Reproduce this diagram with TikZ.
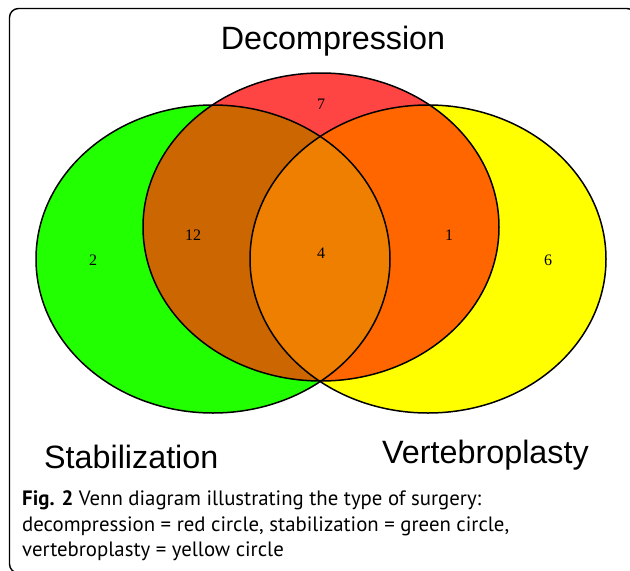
\documentclass[tikz,border=0pt]{standalone}
\usepackage{fontspec}
\setmainfont{Liberation Serif}
\newfontfamily\titlefont{Liberation Sans}
\newfontfamily\capfont{PT Sans}
\definecolor{cgreen}{HTML}{22FF00}
\definecolor{cred}{HTML}{FF4444}
\definecolor{cyellow}{HTML}{FFFF00}
\definecolor{cgr}{HTML}{CC6600}
\definecolor{cry}{HTML}{FF6600}
\definecolor{call}{HTML}{EE7F00}
\tikzset{
  setlabel/.style={font=\titlefont\fontsize{32.3}{36}\selectfont, inner sep=0pt, anchor=base},
  numlabel/.style={font=\fontsize{16}{18}\selectfont, inner sep=0pt},
  captext/.style={font=\capfont\fontsize{20.8}{26}\selectfont, inner sep=0pt, anchor=base west},
  vennline/.style={draw=black, line width=1.5pt}
}
\begin{document}
\begin{tikzpicture}[x=1pt,y=-1pt]
\useasboundingbox (0,0) rectangle (630,571);
\begin{scope}
\clip (0,0) rectangle (630,571);
\draw[line width=1.4pt, rounded corners=9pt] (9.5,8.5) rectangle (636,573);
\end{scope}
% base fills
\fill[cgreen] (213,259) ellipse [x radius=177, y radius=154];
\fill[cred] (321,227) ellipse [x radius=178, y radius=154];
\fill[cyellow] (428,259) ellipse [x radius=178, y radius=154];
% green & red
\begin{scope}
\clip (213,259) ellipse [x radius=177, y radius=154];
\fill[cgr] (321,227) ellipse [x radius=178, y radius=154];
\end{scope}
% red & yellow
\begin{scope}
\clip (321,227) ellipse [x radius=178, y radius=154];
\fill[cry] (428,259) ellipse [x radius=178, y radius=154];
\end{scope}
% all three
\begin{scope}
\clip (213,259) ellipse [x radius=177, y radius=154];
\clip (428,259) ellipse [x radius=178, y radius=154];
\fill[call] (321,227) ellipse [x radius=178, y radius=154];
\end{scope}
% outlines
\draw[vennline] (213,259) ellipse [x radius=177, y radius=154];
\draw[vennline] (321,227) ellipse [x radius=178, y radius=154];
\draw[vennline] (428,259) ellipse [x radius=178, y radius=154];
% numbers
\node[numlabel] (n7) at (321,104) {7};
\node[numlabel] (n12) at (193,235) {12};
\node[numlabel] (n4) at (321,253) {4};
\node[numlabel] (n1) at (449,235) {1};
\node[numlabel] (n2) at (93,260) {2};
\node[numlabel] (n6) at (548,260) {6};
% set titles
\node[setlabel] (tdec) at (333,49) {Decompression};
\node[setlabel, anchor=base west] (tstab) at (44,468) {Stabilization};
\node[setlabel, anchor=base west] (tvert) at (382,463) {Vertebroplasty};
% caption
\node[captext] (cap1) at (22,505) {\textbf{Fig. 2} Venn diagram illustrating the type of surgery:};
\node[captext] (cap2) at (22,531) {decompression = red circle, stabilization = green circle,};
\node[captext] (cap3) at (22,556) {vertebroplasty = yellow circle};
\end{tikzpicture}
\end{document}
